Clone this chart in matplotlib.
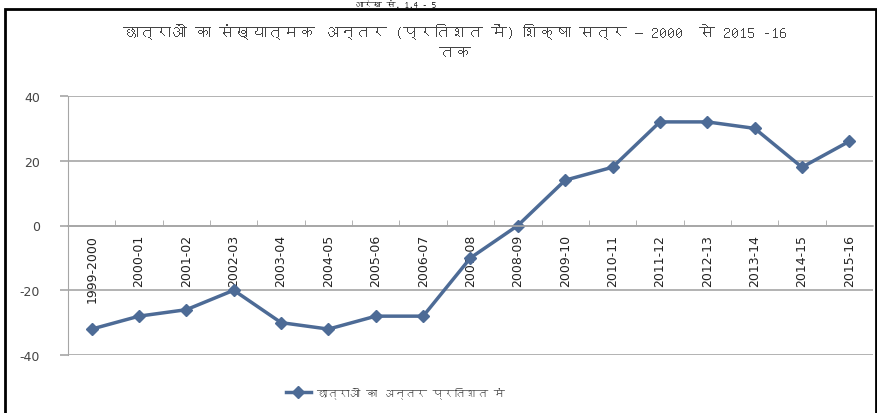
import matplotlib
matplotlib.use('Agg')
import matplotlib.pyplot as plt
from matplotlib import font_manager
from matplotlib.ft2font import FT2Font
from matplotlib.lines import Line2D
from matplotlib.patches import Rectangle


def find_devanagari_font():
    # first installed family that has the letter 'क'
    for f in font_manager.fontManager.ttflist:
        try:
            if 0x0915 in FT2Font(f.fname).get_charmap():
                return f.name
        except Exception:
            pass
    return None


deva = find_devanagari_font()
families = [deva, 'DejaVu Sans'] if deva else ['DejaVu Sans']

years = ['1999-2000', '2000-01', '2001-02', '2002-03', '2003-04', '2004-05',
         '2005-06', '2006-07', '2007-08', '2008-09', '2009-10', '2010-11',
         '2011-12', '2012-13', '2013-14', '2014-15', '2015-16']
antar = [-32, -28, -26, -20, -30, -32, -28, -28, -10, 0, 14, 18, 32, 32, 30, 18, 26]
y_ticks = [-40, -20, 0, 20, 40]

heading = 'आरेख सं. 1.4 - 5'
title = 'छात्राओं का संख्यात्मक अन्तर (प्रतिशत में) शिक्षा सत्र — 2000  से 2015 -16\nतक'
legend_label = 'छात्राओं का अन्तर प्रतिशत में'

line_color = '#4d6b96'
grid_color = '#a6a6a6'
text_color = '#444444'

fig = plt.figure(figsize=(8.78, 4.14), dpi=100)
fig.patch.set_facecolor('white')

# outer frame
fig.patches.append(Rectangle((5 / 878, -0.02), 871 / 878, 1.02 - 10 / 414,
                             transform=fig.transFigure, fill=False,
                             edgecolor='black', linewidth=2))
fig.text(0.45, 1 - 0.5 / 414, heading, ha='center', va='top', fontsize=6.5,
         fontweight='bold', family=families)

ax = fig.add_axes([68 / 878, 1 - 356 / 414, 805 / 878, 259 / 414])
x = list(range(len(years)))
ax.plot(x, antar, color=line_color, linewidth=2.5, marker='D', markersize=6,
        markerfacecolor=line_color, markeredgecolor=line_color)

ax.set_xlim(-0.5, len(years) - 0.5)
ax.set_ylim(-40, 40)
ax.set_yticks(y_ticks)
ax.set_yticklabels([str(v) for v in y_ticks])
ax.yaxis.grid(True, color=grid_color, linewidth=1.2)
ax.set_axisbelow(True)
ax.tick_params(axis='y', length=6, width=1.2, color=grid_color, pad=14,
               labelsize=9, labelcolor=text_color)

# category axis crosses at zero, labels hang below it
ax.spines['bottom'].set_position(('data', 0))
ax.spines['bottom'].set_color(grid_color)
ax.spines['bottom'].set_linewidth(1.2)
ax.spines['left'].set_color(grid_color)
ax.spines['top'].set_visible(False)
ax.spines['right'].set_visible(False)
ax.set_xticks(x)
ax.set_xticklabels(years, rotation=90, fontsize=9, color='#222222')
ax.set_xticks([i + 0.5 for i in x[:-1]], minor=True)
ax.tick_params(axis='x', which='major', length=0, pad=6)
ax.tick_params(axis='x', which='minor', direction='in', length=4, color=grid_color)

fig.text(455 / 878, 1 - 42 / 414, title, ha='center', va='center', fontsize=11.5,
         color=text_color, family=families, linespacing=1.7)

handle = Line2D([], [], color=line_color, linewidth=2.5, marker='D', markersize=6)
fig.legend([handle], [legend_label], loc='center', bbox_to_anchor=(395 / 878, 1 - 393 / 414),
           frameon=False, prop={'family': families, 'size': 8}, labelcolor=text_color,
           handlelength=2.3, handletextpad=0.4)

fig.savefig('out.png', dpi=100)
